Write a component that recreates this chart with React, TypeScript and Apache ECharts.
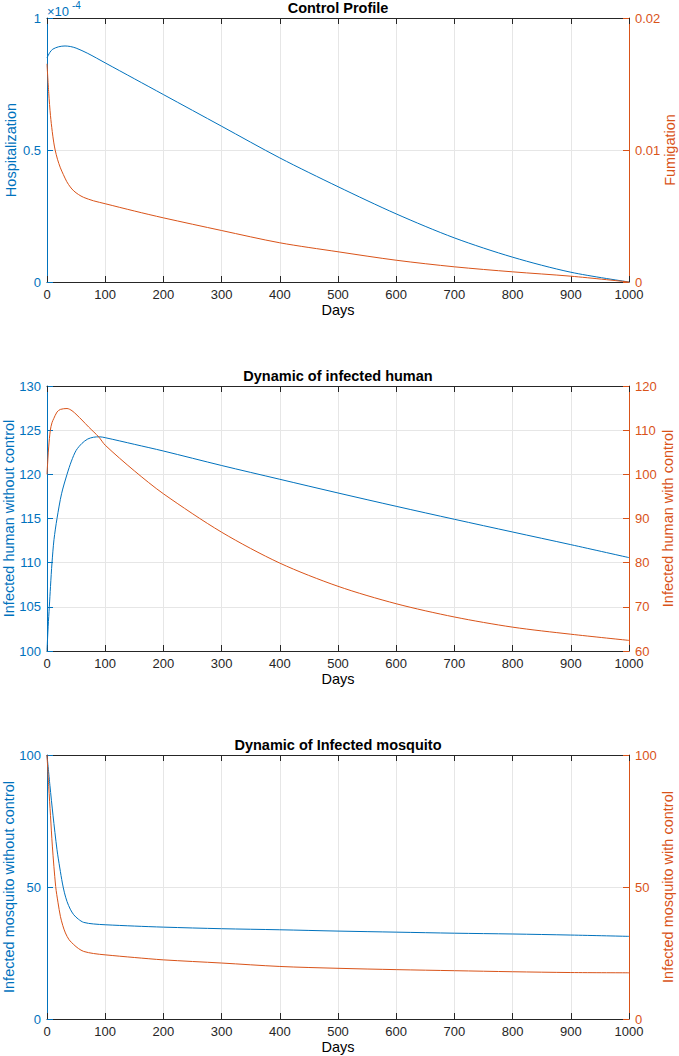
import React, { useEffect, useRef } from "react";
import * as echarts from "echarts";

// ---- Control Profile ----
const hospDays = [0, 5, 10, 20, 31, 40, 50, 70, 100, 150, 200, 300, 400, 500, 600, 700, 800, 900, 1000];
const hospitalization = [0.849, 0.87, 0.882, 0.891, 0.894, 0.892, 0.886, 0.866, 0.83, 0.77, 0.71, 0.59, 0.47, 0.361, 0.258, 0.167, 0.094, 0.037, 0]; // ×1e-4
const fumDays = [0, 3, 6, 9, 11.5, 14, 18, 23, 28, 34, 40, 46, 54, 63, 80, 100, 150, 200, 300, 400, 500, 600, 700, 800, 900, 1000];
const fumigation = [0.01653, 0.0143, 0.0126, 0.0114, 0.0106, 0.01, 0.0093, 0.00865, 0.00815, 0.0076, 0.0072, 0.0069, 0.00663, 0.00641, 0.00615, 0.00593, 0.00538, 0.00486, 0.0039, 0.00297, 0.00229, 0.00165, 0.00115, 0.00077, 0.00044, 0];

// ---- Dynamic of infected human ----
const humanNoCtrlDays = [0, 1, 2, 4, 6, 8.6, 12, 17.2, 25, 34.4, 42, 50, 60, 70, 80, 90, 100, 150, 200, 300, 400, 500, 600, 700, 800, 900, 1000];
const humanNoCtrl = [100, 101.5, 102.8, 105, 107.3, 110, 112.6, 115, 117.8, 120, 121.5, 122.7, 123.5, 124.0, 124.2, 124.25, 124.15, 123.4, 122.64, 121.0, 119.44, 117.89, 116.38, 114.91, 113.47, 112.04, 110.57];
const humanCtrlDays = [0, 1.5, 2.9, 5.7, 8.6, 11.5, 17.2, 23, 34.4, 43, 51.6, 60, 71.7, 89, 100, 150, 200, 300, 400, 500, 600, 700, 800, 900, 1000];
const humanCtrl = [100, 103.5, 106.2, 110, 111.7, 112.6, 114.1, 114.7, 114.9, 114.4, 113.4, 112.3, 110.7, 108.45, 106.6, 100.8, 95.6, 86.9, 79.9, 74.65, 70.7, 67.7, 65.4, 63.8, 62.4];

// ---- Dynamic of Infected mosquito ----
const mosqNoCtrlDays = [0, 5, 10.3, 17.2, 22, 26.4, 30, 34.4, 40, 45.9, 54, 63, 80, 100, 150, 200, 300, 400, 500, 600, 700, 800, 900, 1000];
const mosqNoCtrl = [100, 88.5, 77.2, 64.1, 57.2, 51.5, 47.8, 44.5, 41.6, 39.5, 37.8, 36.6, 36.0, 35.7, 35.2, 34.8, 34.2, 33.8, 33.3, 32.9, 32.5, 32.2, 31.8, 31.3];
const mosqCtrlDays = [0, 3, 6, 9.2, 14.9, 19, 23, 27, 31.6, 38, 45.9, 54, 63, 80, 100, 150, 200, 300, 400, 500, 600, 700, 800, 900, 1000];
const mosqCtrl = [100, 88, 77, 65.5, 50.2, 44, 38.9, 35.5, 32.6, 30, 28.2, 26.7, 25.6, 24.8, 24.3, 23.3, 22.4, 21.2, 19.9, 19.2, 18.7, 18.3, 17.9, 17.6, 17.5];

const titles = ["Control Profile", "Dynamic of infected human", "Dynamic of Infected mosquito"];
const leftNames = ["Hospitalization", "Infected human without control", "Infected mosquito without control"];
const rightNames = ["Fumigation", "Infected human with control", "Infected mosquito with control"];

const BLUE = "#0072BD";
const ORANGE = "#D95319";
const DARK = "#262626";
const GRIDC = "#e6e6e6";
const FONT = "'Liberation Sans', Arial, Helvetica, sans-serif";

const zip = (xs: number[], ys: number[]) => xs.map((x, i) => [x, ys[i]]);
const fmt = (v: number) => String(Number(v.toPrecision(6)));

export default function App() {
  const ref = useRef<HTMLDivElement>(null);
  useEffect(() => {
    document.body.style.margin = "0";
    if (!ref.current) return;
    const chart = echarts.init(ref.current, undefined, { renderer: "svg" });

    const gridPos = [
      { top: 18, height: 264 },
      { top: 386, height: 265 },
      { top: 755, height: 264 },
    ];
    const leftScale = [
      { min: 0, max: 1, interval: 0.5, gap: 29 },
      { min: 100, max: 130, interval: 5, gap: 31 },
      { min: 0, max: 100, interval: 50, gap: 31 },
    ];
    const rightScale = [
      { min: 0, max: 0.02, interval: 0.01, gap: 33 },
      { min: 60, max: 120, interval: 10, gap: 31 },
      { min: 0, max: 100, interval: 50, gap: 31 },
    ];

    const xAxis: any[] = [];
    const yAxis: any[] = [];
    gridPos.forEach((_, i) => {
      xAxis.push({
        type: "value", gridIndex: i, position: "bottom", min: 0, max: 1000, interval: 100,
        name: "Days", nameLocation: "middle", nameGap: 20, nameMoveOverlap: false,
        nameTextStyle: { color: "#000", fontSize: 14.5, fontFamily: FONT },
        axisLine: { show: true, onZero: false, lineStyle: { color: DARK, width: 1 } },
        axisTick: { show: true, inside: true, length: 6, lineStyle: { color: DARK } },
        axisLabel: { color: DARK, fontSize: 13, margin: 6, fontFamily: FONT, showMinLabel: true, showMaxLabel: true, formatter: fmt },
        splitLine: { show: true, lineStyle: { color: GRIDC, width: 1 } },
      });
      xAxis.push({
        type: "value", gridIndex: i, position: "top", min: 0, max: 1000, interval: 100,
        axisLine: { show: true, onZero: false, lineStyle: { color: DARK, width: 1 } },
        axisTick: { show: true, inside: true, length: 6, lineStyle: { color: DARK } },
        axisLabel: { show: false },
        splitLine: { show: false },
      });
      const L = leftScale[i];
      const R = rightScale[i];
      yAxis.push({
        type: "value", gridIndex: i, position: "left", min: L.min, max: L.max, interval: L.interval,
        name: leftNames[i], nameLocation: "middle", nameGap: L.gap, nameMoveOverlap: false,
        nameTextStyle: { color: BLUE, fontSize: 14.5, fontFamily: FONT },
        axisLine: { show: true, onZero: false, lineStyle: { color: BLUE, width: 1 } },
        axisTick: { show: true, inside: true, length: 6, lineStyle: { color: BLUE } },
        axisLabel: { color: BLUE, fontSize: 13, margin: 6, fontFamily: FONT, showMinLabel: true, showMaxLabel: true, formatter: fmt },
        splitLine: { show: true, lineStyle: { color: GRIDC, width: 1 } },
      });
      yAxis.push({
        type: "value", gridIndex: i, position: "right", min: R.min, max: R.max, interval: R.interval,
        name: rightNames[i], nameLocation: "middle", nameGap: R.gap, nameMoveOverlap: false,
        nameTextStyle: { color: ORANGE, fontSize: 14.5, fontFamily: FONT },
        axisLine: { show: true, onZero: false, lineStyle: { color: ORANGE, width: 1 } },
        axisTick: { show: true, inside: true, length: 6, lineStyle: { color: ORANGE } },
        axisLabel: { color: ORANGE, fontSize: 13, margin: 6, fontFamily: FONT, showMinLabel: true, showMaxLabel: true, formatter: fmt },
        splitLine: { show: false },
      });
    });

    const pairs = [
      [zip(hospDays, hospitalization), zip(fumDays, fumigation)],
      [zip(humanNoCtrlDays, humanNoCtrl), zip(humanCtrlDays, humanCtrl)],
      [zip(mosqNoCtrlDays, mosqNoCtrl), zip(mosqCtrlDays, mosqCtrl)],
    ];
    const series: any[] = [];
    pairs.forEach((p, i) => {
      series.push({
        type: "line", xAxisIndex: 2 * i, yAxisIndex: 2 * i, data: p[0],
        showSymbol: false, smooth: 0.3,
        lineStyle: { color: BLUE, width: 1 }, itemStyle: { color: BLUE },
      });
      series.push({
        type: "line", xAxisIndex: 2 * i, yAxisIndex: 2 * i + 1, data: p[1],
        showSymbol: false, smooth: 0.3,
        lineStyle: { color: ORANGE, width: 1 }, itemStyle: { color: ORANGE },
      });
    });

    const graphic: any[] = titles.map((t, i) => ({
      type: "text", x: 338, y: gridPos[i].top - 10,
      style: { text: t, fill: "#000", font: `bold 14.5px ${FONT}`, align: "center", verticalAlign: "middle" },
    }));
    graphic.push({
      type: "text", x: 47, y: 11,
      style: { text: "×10", fill: BLUE, font: `13px ${FONT}`, align: "left", verticalAlign: "middle" },
    });
    graphic.push({
      type: "text", x: 72, y: 5,
      style: { text: "-4", fill: BLUE, font: `10px ${FONT}`, align: "left", verticalAlign: "middle" },
    });

    chart.setOption({
      animation: false,
      backgroundColor: "#fff",
      textStyle: { fontFamily: FONT },
      grid: gridPos.map((g) => ({ left: 47, width: 582, top: g.top, height: g.height, containLabel: false, outerBoundsMode: "none" })),
      xAxis,
      yAxis,
      series,
      graphic,
    });
    return () => chart.dispose();
  }, []);
  return <div ref={ref} style={{ position: "absolute", left: 0, top: 0, width: 679, height: 1056 }} />;
}
